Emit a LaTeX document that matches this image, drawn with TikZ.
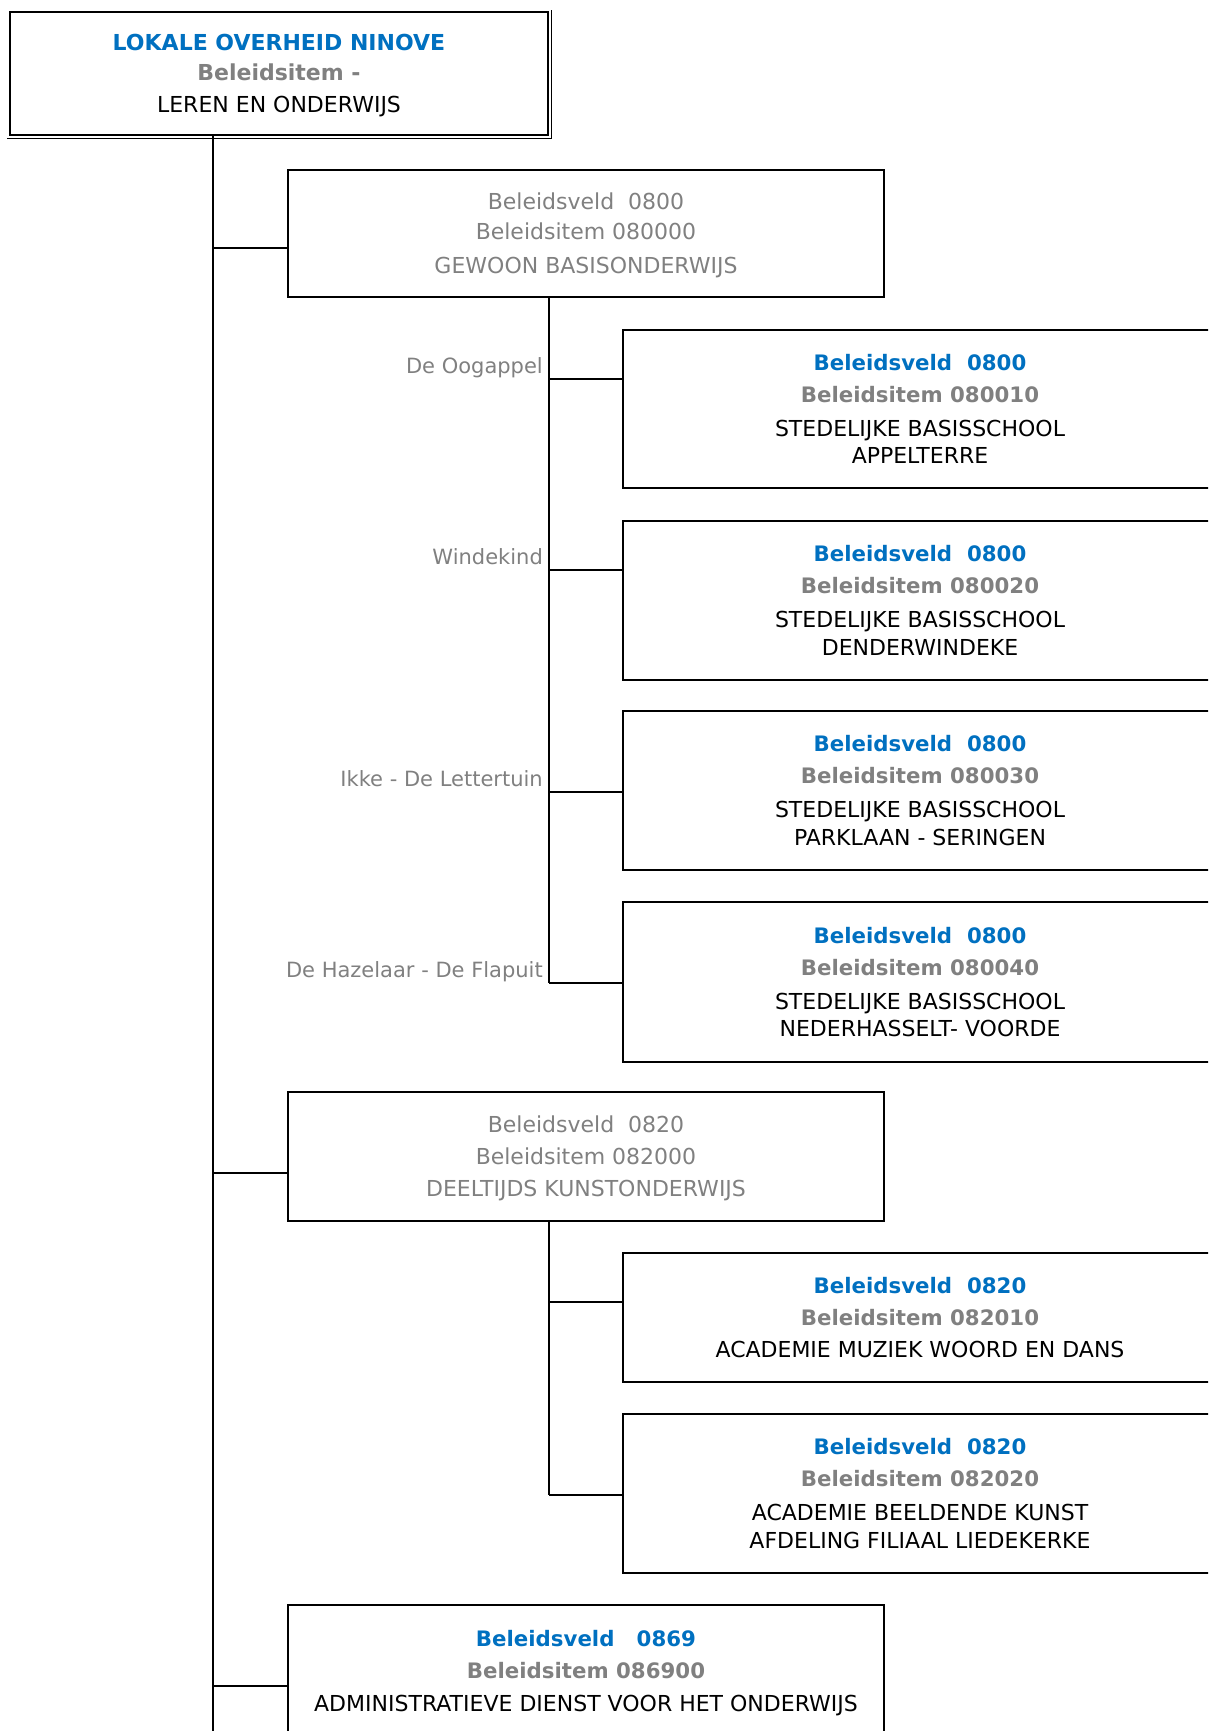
\documentclass[tikz,border=0pt]{standalone}
\usepackage{fontspec}
\setmainfont{DejaVu Sans}
\definecolor{hblue}{HTML}{0070C0}
\definecolor{hgray}{HTML}{808080}
\newcommand\bfsmall{\fontsize{21.3}{27.5}\selectfont\bfseries}
\newcommand\hdrlines[2]{{\color{hblue}\bfsmall #1}\\[4.5pt]{\color{hgray}\bfsmall #2}\\[6.5pt]}
\begin{document}
\begin{tikzpicture}[x=1pt,y=-1pt,
  box/.style={draw, line width=2pt, inner sep=0pt, align=center, text depth=0pt, font=\fontsize{22}{27.5}\selectfont},
  parentbox/.style={box, minimum width=596pt, text=hgray},
  childbox/.style={box, minimum width=594pt},
  conn/.style={line width=2pt},
  lbl/.style={anchor=base east, inner sep=0pt, text=hgray, font=\fontsize{21}{26}\selectfont}]
\useasboundingbox (0,0) rectangle (1208,1731);
\clip (0,0) rectangle (1208,1731);

% top box
\node[box, minimum width=538pt, minimum height=123pt] (top) at (279,73.5)
  {{\color{hblue}\bfseries LOKALE OVERHEID NINOVE}\\[2.5pt]{\color{hgray}\bfseries Beleidsitem -}\\[5pt]LEREN EN ONDERWIJS};
\draw[line width=1.2pt] ([shift={(-2,2.6)}]top.south west) -- ([shift={(2.8,2.6)}]top.south east) -- ([shift={(2.8,-1)}]top.north east);

% level 1 boxes
\node[parentbox, minimum height=127pt] (A) at (586,233.5)
  {Beleidsveld\ \ 0800\\[2.5pt]Beleidsitem 080000\\[6.5pt]GEWOON BASISONDERWIJS};
\node[parentbox, minimum height=129pt] (C) at (586,1156.5)
  {Beleidsveld\ \ 0820\\[4.5pt]Beleidsitem 082000\\[4.5pt]DEELTIJDS KUNSTONDERWIJS};
\node[parentbox, minimum height=132pt, text=black] (D) at (586,1671)
  {{\color{hblue}\bfsmall Beleidsveld\ \ \ 0869}\\[4.5pt]{\color{hgray}\bfsmall Beleidsitem 086900}\\[5.5pt]ADMINISTRATIEVE DIENST VOOR HET ONDERWIJS};

% level 2 boxes
\node[childbox, minimum height=158pt] (B1) at (920,409)
  {\hdrlines{Beleidsveld\ \ 0800}{Beleidsitem 080010}STEDELIJKE BASISSCHOOL\\APPELTERRE};
\node[childbox, minimum height=159pt] (B2) at (920,600.5)
  {\hdrlines{Beleidsveld\ \ 0800}{Beleidsitem 080020}STEDELIJKE BASISSCHOOL\\DENDERWINDEKE};
\node[childbox, minimum height=159pt] (B3) at (920,790.5)
  {\hdrlines{Beleidsveld\ \ 0800}{Beleidsitem 080030}STEDELIJKE BASISSCHOOL\\PARKLAAN - SERINGEN};
\node[childbox, minimum height=160pt] (B4) at (920,982)
  {\hdrlines{Beleidsveld\ \ 0800}{Beleidsitem 080040}STEDELIJKE BASISSCHOOL\\NEDERHASSELT- VOORDE};
\node[childbox, minimum height=129pt] (C1) at (920,1317.5)
  {{\color{hblue}\bfsmall Beleidsveld\ \ 0820}\\[4.5pt]{\color{hgray}\bfsmall Beleidsitem 082010}\\[4.5pt]ACADEMIE MUZIEK WOORD EN DANS};
\node[childbox, minimum height=159pt] (C2) at (920,1493.5)
  {\hdrlines{Beleidsveld\ \ 0820}{Beleidsitem 082020}ACADEMIE BEELDENDE KUNST\\AFDELING FILIAAL LIEDEKERKE};

% main trunk
\coordinate (trunkEnd) at (213,1745);
\coordinate (jA) at (213,248);
\coordinate (jC) at (213,1173);
\coordinate (jD) at (213,1686);
\draw[conn] (top.south -| trunkEnd) -- (trunkEnd);
\draw[conn] (jA) -- (jA -| A.west);
\draw[conn] (jC) -- (jC -| C.west);
\draw[conn] (jD) -- (jD -| D.west);

% sub trunk A
\coordinate (jB1) at (549,379);
\coordinate (jB2) at (549,570);
\coordinate (jB3) at (549,792);
\coordinate (jB4) at (549,983);
\draw[conn] (A.south -| jB4) -- (jB4);
\draw[conn] (jB1) -- (jB1 -| B1.west);
\draw[conn] (jB2) -- (jB2 -| B2.west);
\draw[conn] (jB3) -- (jB3 -| B3.west);
\draw[conn] (jB4) -- (jB4 -| B4.west);
\node[lbl] (lB1) at ([shift={(-6,-6)}]jB1) {De Oogappel};
\node[lbl] (lB2) at ([shift={(-6,-6)}]jB2) {Windekind};
\node[lbl] (lB3) at ([shift={(-6,-6)}]jB3) {Ikke - De Lettertuin};
\node[lbl] (lB4) at ([shift={(-6,-6)}]jB4) {De Hazelaar - De Flapuit};

% sub trunk C
\coordinate (jC1) at (549,1302);
\coordinate (jC2) at (549,1495);
\draw[conn] (C.south -| jC2) -- (jC2);
\draw[conn] (jC1) -- (jC1 -| C1.west);
\draw[conn] (jC2) -- (jC2 -| C2.west);
\end{tikzpicture}
\end{document}
